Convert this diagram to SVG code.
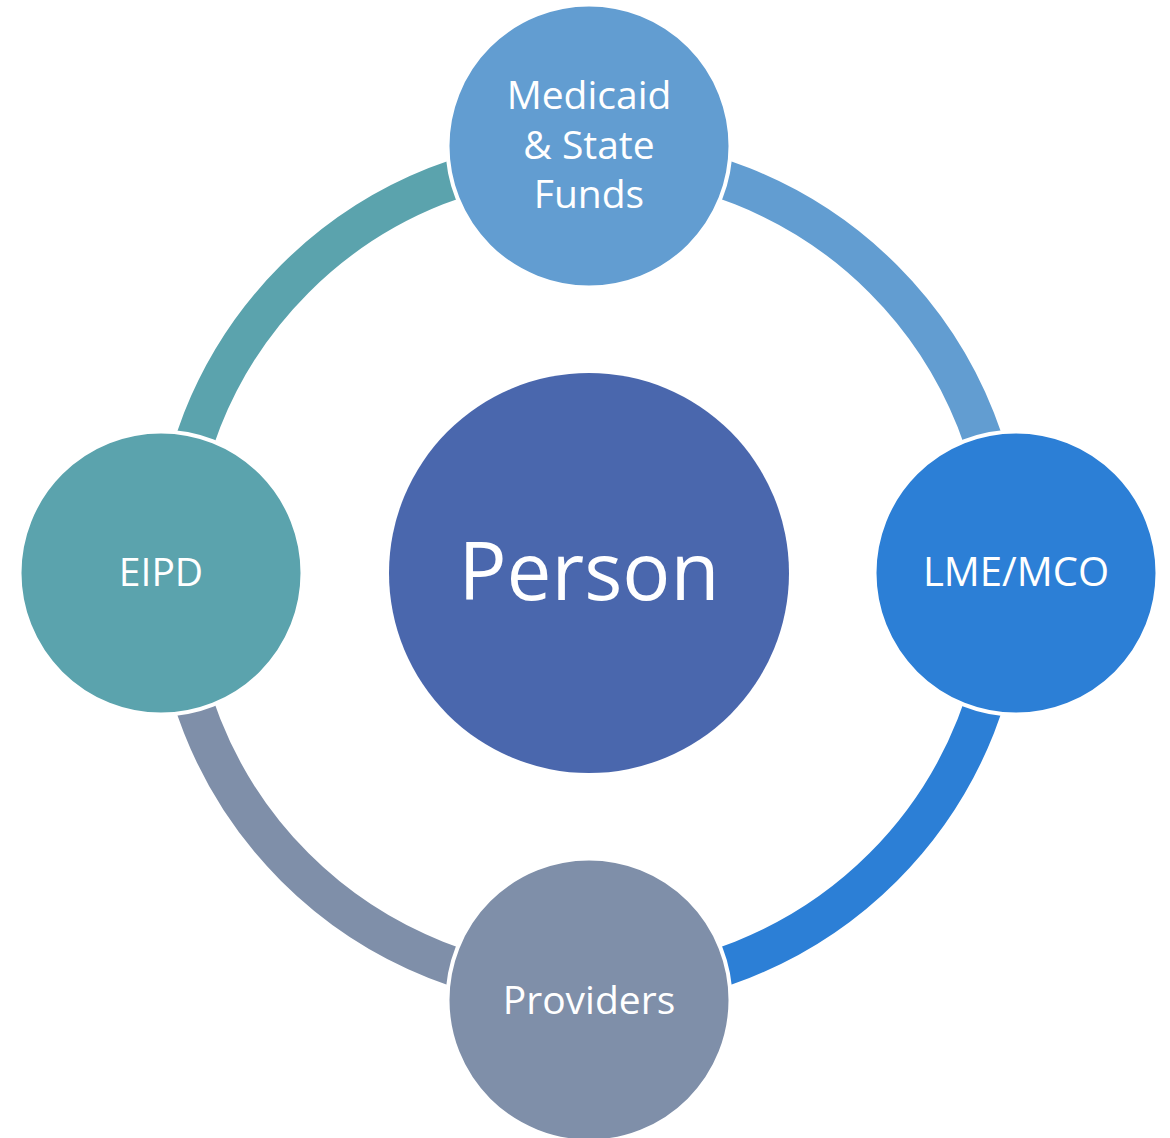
<svg xmlns="http://www.w3.org/2000/svg" width="1170" height="1138" viewBox="0 0 1170 1138">
<style>
.arc{fill:none;stroke-width:39}
.node{stroke:#ffffff;stroke-width:4}
.lbl{font-family:"Open Sans","Noto Sans","Liberation Sans",sans-serif;fill:#ffffff;text-anchor:middle}
</style>
<rect width="1170" height="1138" fill="#ffffff"/>
<g id="connectors">
<path class="arc" stroke="#629DD1" d="M 589 157 A 416 416 0 0 1 1005 573"/>
<path class="arc" stroke="#2C7FD6" d="M 1005 573 A 416 416 0 0 1 589 989"/>
<path class="arc" stroke="#7F8FA9" d="M 589 989 A 416 416 0 0 1 173 573"/>
<path class="arc" stroke="#5BA3AD" d="M 173 573 A 416 416 0 0 1 589 157"/>
</g>
<g id="person">
<circle cx="589" cy="573" r="200" fill="#4A67AD"/>
<text class="lbl" x="589" y="600" font-size="80">Person</text>
</g>
<g id="medicaid">
<circle class="node" cx="589" cy="146" r="141.5" fill="#629DD1"/>
<text class="lbl" x="589" y="109" font-size="39">Medicaid</text>
<text class="lbl" x="589" y="159" font-size="39">&amp; State</text>
<text class="lbl" x="589" y="208" font-size="39">Funds</text>
</g>
<g id="lme">
<circle class="node" cx="1016" cy="573" r="141.5" fill="#2C7FD6"/>
<text class="lbl" x="1016" y="586" font-size="40">LME/MCO</text>
</g>
<g id="providers">
<circle class="node" cx="589" cy="1000" r="141.5" fill="#7F8FA9"/>
<text class="lbl" x="589" y="1014" font-size="39">Providers</text>
</g>
<g id="eipd">
<circle class="node" cx="161" cy="573" r="141.5" fill="#5BA3AD"/>
<text class="lbl" x="161" y="586" font-size="39">EIPD</text>
</g>
</svg>
